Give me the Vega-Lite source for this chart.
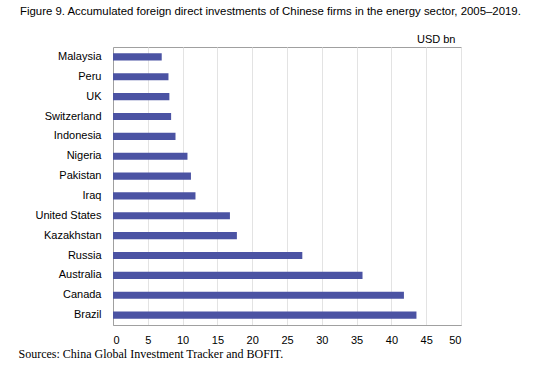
{
  "$schema": "https://vega.github.io/schema/vega-lite/v6.json",
  "width": 348,
  "height": 278,
  "autosize": "none",
  "padding": {"left": 113, "top": 47, "right": 79, "bottom": 44},
  "background": "white",
  "title": {
    "text": "Figure 9. Accumulated foreign direct investments of Chinese firms in the energy sector, 2005–2019.",
    "anchor": "start",
    "frame": "group",
    "dx": -93,
    "offset": 16,
    "font": "Liberation Sans, Arial",
    "fontSize": 11.4,
    "fontWeight": "normal",
    "color": "black"
  },
  "config": {
    "view": {"stroke": "#a0a0a0", "strokeWidth": 1},
    "axis": {
      "labelFont": "Liberation Sans, Arial",
      "labelFontSize": 11,
      "labelColor": "black",
      "ticks": false,
      "domainColor": "#a0a0a0",
      "gridColor": "#e3e3e3"
    }
  },
  "data": {
    "values": [
      {"country": "Malaysia", "value": 7.0},
      {"country": "Peru", "value": 7.97},
      {"country": "UK", "value": 8.1},
      {"country": "Switzerland", "value": 8.35},
      {"country": "Indonesia", "value": 8.98},
      {"country": "Nigeria", "value": 10.7},
      {"country": "Pakistan", "value": 11.2},
      {"country": "Iraq", "value": 11.85},
      {"country": "United States", "value": 16.8},
      {"country": "Kazakhstan", "value": 17.8},
      {"country": "Russia", "value": 27.2},
      {"country": "Australia", "value": 35.85},
      {"country": "Canada", "value": 41.8},
      {"country": "Brazil", "value": 43.6}
    ]
  },
  "mark": {"type": "bar", "color": "#4b53a3"},
  "encoding": {
    "y": {
      "field": "country",
      "type": "nominal",
      "sort": null,
      "scale": {"paddingInner": 0.64, "paddingOuter": 0.32},
      "axis": {
        "title": "USD bn",
        "titleAngle": 0,
        "titleX": 342,
        "titleY": -3,
        "titleAlign": "right",
        "titleBaseline": "bottom",
        "titleFont": "Liberation Sans, Arial",
        "titleFontSize": 11,
        "titleFontWeight": "normal",
        "titleColor": "black",
        "labelPadding": 12,
        "grid": false
      }
    },
    "x": {
      "field": "value",
      "type": "quantitative",
      "scale": {"domain": [0, 50], "nice": false},
      "axis": {
        "values": [0, 5, 10, 15, 20, 25, 30, 35, 40, 45, 50],
        "labelPadding": 9,
        "grid": true,
        "title": "Sources: China Global Investment Tracker and BOFIT.",
        "titleX": -95,
        "titleY": 23,
        "titleAlign": "left",
        "titleBaseline": "top",
        "titleFont": "Liberation Serif, Times New Roman",
        "titleFontSize": 12,
        "titleFontWeight": "normal",
        "titleColor": "black"
      }
    }
  }
}
